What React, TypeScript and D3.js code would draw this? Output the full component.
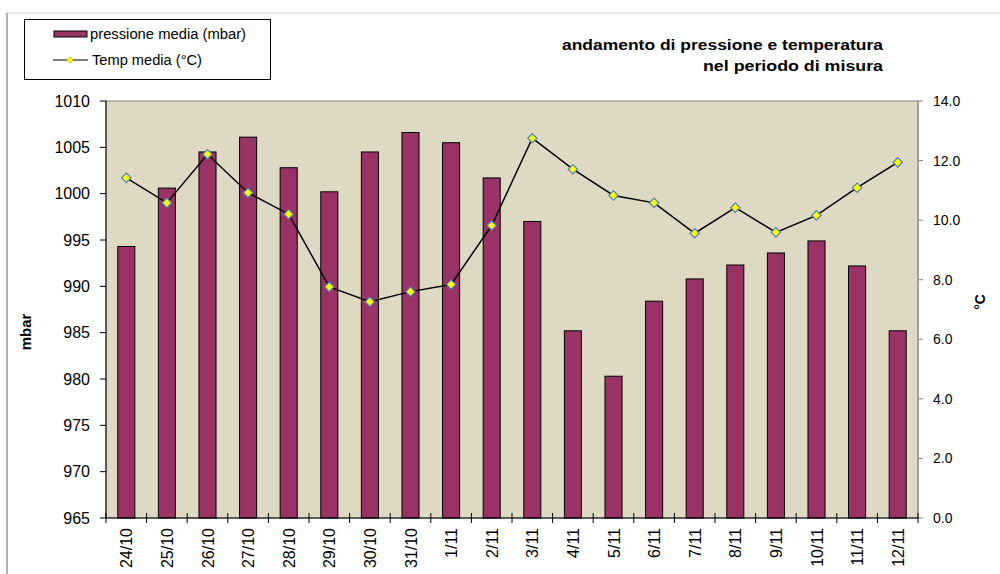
import React from "react";
import * as d3 from "d3";

// giorni del periodo di misura
const days = [
  "24/10", "25/10", "26/10", "27/10", "28/10", "29/10", "30/10", "31/10",
  "1/11", "2/11", "3/11", "4/11", "5/11", "6/11", "7/11", "8/11",
  "9/11", "10/11", "11/11", "12/11",
];

// pressione media (mbar)
const pressure = [
  994.3, 1000.6, 1004.5, 1006.1, 1002.8, 1000.2, 1004.5, 1006.6, 1005.5, 1001.7,
  997.0, 985.2, 980.3, 988.4, 990.8, 992.3, 993.6, 994.9, 992.2, 985.2,
];

// temperatura media (°C)
const temperature = [
  11.42, 10.58, 12.21, 10.92, 10.2, 7.76, 7.26, 7.6, 7.84, 9.82,
  12.75, 11.71, 10.83, 10.58, 9.56, 10.42, 9.59, 10.16, 11.09, 11.94,
];

const pressureTicks = [965, 970, 975, 980, 985, 990, 995, 1000, 1005, 1010];
const tempTicks = [0, 2, 4, 6, 8, 10, 12, 14];

const W = 1000;
const H = 574;
const plot = { left: 106, right: 918, top: 101, bottom: 518 };
const BAR_COLOR = "#993366";
const FONT = "Arial, 'Liberation Sans', sans-serif";

export default function App() {
  const x = d3
    .scaleBand<string>()
    .domain(days)
    .range([plot.left, plot.right])
    .paddingInner(0.58)
    .paddingOuter(0.29);

  const yP = d3.scaleLinear().domain([965, 1010]).range([plot.bottom, plot.top]);
  const yT = d3.scaleLinear().domain([0, 14]).range([plot.bottom, plot.top]);

  const step = (plot.right - plot.left) / days.length;
  const center = (d: string) => (x(d) as number) + x.bandwidth() / 2;

  const line = d3
    .line<number>()
    .x((_, i) => center(days[i]))
    .y((t) => yT(t));

  // rombo = quadrato ruotato di 45°
  const diamond = d3.symbol().type(d3.symbolSquare).size(44)() as string;
  const smallDiamond = d3.symbol().type(d3.symbolSquare).size(20)() as string;

  return (
    <svg
      width={W}
      height={H}
      style={{ position: "absolute", left: 0, top: 0, background: "#fff", fontFamily: FONT }}
    >
      {/* cornice esterna */}
      <line x1={7} x2={W} y1={13} y2={13} stroke="#d4d4d4" />
      <line x1={7} x2={7} y1={13} y2={H} stroke="#666" />

      {/* area del grafico */}
      <rect
        x={plot.left}
        y={plot.top}
        width={plot.right - plot.left}
        height={plot.bottom - plot.top}
        fill="#ddd9c3"
        stroke="#868686"
      />

      {/* barre pressione */}
      {pressure.map((v, i) => (
        <rect
          key={days[i]}
          x={x(days[i])}
          y={yP(v)}
          width={x.bandwidth()}
          height={plot.bottom - yP(v)}
          fill={BAR_COLOR}
          stroke="#000"
          strokeWidth={1}
        />
      ))}

      {/* linea temperatura */}
      <path d={line(temperature) || ""} fill="none" stroke="#000" strokeWidth={1.5} />
      {temperature.map((t, i) => (
        <path
          key={"m" + i}
          d={diamond}
          transform={`translate(${center(days[i])},${yT(t)}) rotate(45)`}
          fill="#ffff00"
          stroke="#4f81bd"
          strokeWidth={1.2}
        />
      ))}

      {/* asse sinistro */}
      <line x1={plot.left} x2={plot.left} y1={plot.top} y2={plot.bottom} stroke="#000" />
      {pressureTicks.map((t) => (
        <g key={"p" + t}>
          <line x1={plot.left - 6} x2={plot.left} y1={yP(t)} y2={yP(t)} stroke="#000" />
          <text x={90} y={yP(t)} dy="0.36em" textAnchor="end" fontSize={16} fill="#000">
            {t}
          </text>
        </g>
      ))}
      <text
        transform={`translate(31,332) rotate(-90)`}
        textAnchor="middle"
        fontSize={15}
        fontWeight="bold"
      >
        mbar
      </text>

      {/* asse destro */}
      <line x1={plot.right} x2={plot.right} y1={plot.top} y2={plot.bottom} stroke="#868686" />
      {tempTicks.map((t) => (
        <g key={"t" + t}>
          <line x1={plot.right} x2={plot.right + 5} y1={yT(t)} y2={yT(t)} stroke="#868686" />
          <text x={933} y={yT(t)} dy="0.36em" fontSize={14} fill="#000">
            {t.toFixed(1)}
          </text>
        </g>
      ))}
      <text
        transform={`translate(985,302) rotate(-90)`}
        textAnchor="middle"
        fontSize={14}
        fontWeight="bold"
      >
        °C
      </text>

      {/* asse x */}
      <line x1={plot.left} x2={plot.right} y1={plot.bottom} y2={plot.bottom} stroke="#000" />
      {d3.range(days.length + 1).map((i) => (
        <line
          key={"xt" + i}
          x1={plot.left + i * step}
          x2={plot.left + i * step}
          y1={plot.bottom - 5}
          y2={plot.bottom + 5}
          stroke="#000"
        />
      ))}
      {days.map((d) => (
        <text
          key={"xl" + d}
          transform={`translate(${center(d) + 6},528) rotate(-90)`}
          textAnchor="end"
          fontSize={16}
          fill="#000"
        >
          {d}
        </text>
      ))}

      {/* titolo */}
      <text x={883} y={50} textAnchor="end" fontSize={14} fontWeight="bold" textLength={321} lengthAdjust="spacingAndGlyphs">
        andamento di pressione e temperatura
      </text>
      <text x={883} y={71} textAnchor="end" fontSize={14} fontWeight="bold" textLength={180} lengthAdjust="spacingAndGlyphs">
        nel periodo di misura
      </text>

      {/* legenda */}
      <rect x={24.5} y={19.5} width={246} height={60} fill="#fff" stroke="#000" />
      <rect x={54} y={31} width={33} height={6} fill={BAR_COLOR} stroke="#000" />
      <text x={90} y={39} fontSize={14} textLength={156} lengthAdjust="spacingAndGlyphs">
        pressione media (mbar)
      </text>
      <line x1={53} x2={88} y1={60} y2={60} stroke="#000" />
      <path d={smallDiamond} transform="translate(70,60) rotate(45)" fill="#ffff00" stroke="#c9c900" strokeWidth={0.8} />
      <text x={92} y={65} fontSize={14} textLength={110} lengthAdjust="spacingAndGlyphs">
        Temp media (°C)
      </text>
    </svg>
  );
}
